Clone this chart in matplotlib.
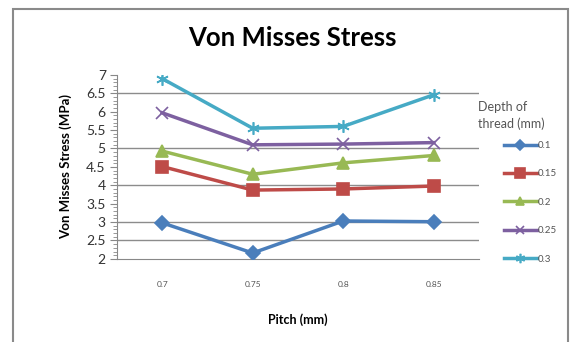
import matplotlib
matplotlib.use('Agg')
import matplotlib.pyplot as plt
import matplotlib.patches as patches
from matplotlib.ticker import MultipleLocator

pitch = ['0.7', '0.75', '0.8', '0.85']
depths = ['0.1', '0.15', '0.2', '0.25', '0.3']
stress_01 = [2.98, 2.16, 3.03, 3.01]
stress_015 = [4.51, 3.87, 3.90, 3.98]
stress_02 = [4.93, 4.30, 4.61, 4.81]
stress_025 = [5.97, 5.10, 5.12, 5.16]
stress_03 = [6.90, 5.55, 5.60, 6.46]
grid_levels = [2.5, 3, 4, 5, 6.5]

series = [stress_01, stress_015, stress_02, stress_025, stress_03]
colors = ['#4A7EBB', '#BE4B48', '#98B954', '#7D60A0', '#46AAC5']
markers = ['D', 's', '^', 'x', (6, 2, 0)]
msizes = [7, 9, 8, 8, 9]

plt.rcParams['font.family'] = ['Lato', 'DejaVu Sans']

fig = plt.figure(figsize=(5.73, 3.42), dpi=100)
ax = fig.add_axes([0.204, 0.243, 0.632, 0.538])

x = range(len(pitch))
for vals, c, m, ms, lab in zip(series, colors, markers, msizes, depths):
    ax.plot(x, vals, color=c, marker=m, markersize=ms, lw=2.5,
            markeredgewidth=1.2, label=lab, zorder=3)

for g in grid_levels:
    ax.axhline(g, color='#8c8c8c', lw=1, zorder=1)

ax.set_xlim(-0.5, 3.5)
ax.set_ylim(2, 7)
ax.set_xticks(list(x))
ax.set_xticklabels(pitch, fontsize=6, color='#555555')
ax.yaxis.set_major_locator(MultipleLocator(0.5))
ax.yaxis.set_minor_locator(MultipleLocator(0.1))
ax.set_yticklabels([f'{v:g}' for v in ax.get_yticks()], fontsize=10, color='#333333')
ax.tick_params(axis='x', length=0, pad=16)
ax.tick_params(axis='y', which='major', length=5, color='#888888', pad=3)
ax.tick_params(axis='y', which='minor', length=3, color='#888888')

for s in ['top', 'right']:
    ax.spines[s].set_visible(False)
ax.spines['left'].set_color('#888888')
ax.spines['bottom'].set_color('#888888')

ax.set_xlabel('Pitch (mm)', fontsize=9, fontweight='bold', labelpad=18)
ax.set_ylabel('Von Misses Stress (MPa)', fontsize=9.5, fontweight='bold', labelpad=10)
fig.text(0.51, 0.89, 'Von Misses Stress', fontsize=18.5, fontweight='bold',
         ha='center', va='center')

fig.text(0.834, 0.662, 'Depth of\nthread (mm)', fontsize=9, color='#555555',
         ha='left', va='center', linespacing=1.45)
leg = ax.legend(loc='upper left', bbox_to_anchor=(0.879, 0.588),
                bbox_transform=fig.transFigure, frameon=False, fontsize=7,
                labelspacing=2.0, handlelength=3.4, handletextpad=0.1,
                borderpad=0, borderaxespad=0, markerscale=0.75)
for t in leg.get_texts():
    t.set_color('#555555')

frame = patches.Rectangle((0.023, -0.1), 0.969, 1.074, transform=fig.transFigure,
                          fill=False, edgecolor='#8a8a8a', lw=1.5)
fig.add_artist(frame)

fig.savefig('out.png', dpi=100)
